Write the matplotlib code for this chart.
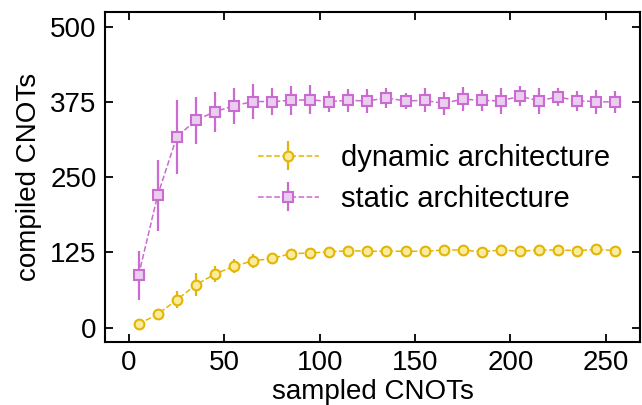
import matplotlib
matplotlib.use("Agg")
import matplotlib.pyplot as plt

plt.rcParams['font.family'] = ['Liberation Sans', 'DejaVu Sans']
plt.rcParams['font.size'] = 20

# sampled CNOT counts (x axis)
sampled = [5, 15, 25, 35, 45, 55, 65, 75, 85, 95, 105, 115, 125, 135, 145,
           155, 165, 175, 185, 195, 205, 215, 225, 235, 245, 255]

# dynamic architecture: mean and spread
dyn_mean = [6, 22, 46, 71, 89, 102, 111, 115, 123, 124, 126, 128, 127, 127,
            127, 127, 129, 129, 126, 129, 127, 129, 129, 128, 130, 128]
dyn_err = [4, 5, 14, 19, 14, 12, 12, 9, 5, 6, 7, 5, 5, 5, 4,
           5, 5, 5, 5, 5, 5, 6, 5, 5, 6, 5]

# static architecture: mean and spread
sta_mean = [87, 220, 317, 345, 359, 369, 376, 376, 378, 379, 376, 378, 377, 382,
            377, 378, 373, 380, 378, 377, 385, 377, 384, 377, 376, 375]
sta_err = [41, 59, 61, 39, 33, 30, 29, 23, 24, 24, 17, 19, 20, 16, 14,
           20, 19, 20, 18, 21, 17, 22, 15, 17, 20, 18]

gold = '#e3b505'
gold_fill = '#fbeb9c'
orchid = '#c96bd0'
orchid_fill = '#ebcdef'

fig = plt.figure(figsize=(6.42, 4.05), dpi=100)
ax = fig.add_axes([0.1636, 0.1556, 0.8333, 0.8148])

ax.errorbar(sampled, dyn_mean, yerr=dyn_err, fmt='o', ls='--', lw=1.1,
            color=gold, ecolor=gold, elinewidth=1.6, capsize=0,
            markersize=7, markerfacecolor=gold_fill, markeredgecolor=gold,
            markeredgewidth=1.5, label='dynamic architecture')
ax.errorbar(sampled, sta_mean, yerr=sta_err, fmt='s', ls='--', lw=1.1,
            color=orchid, ecolor=orchid, elinewidth=1.6, capsize=0,
            markersize=7, markerfacecolor=orchid_fill, markeredgecolor=orchid,
            markeredgewidth=1.5, label='static architecture')

ax.set_xlim(-12.6, 268)
ax.set_ylim(-24, 525)
ax.set_xticks([0, 50, 100, 150, 200, 250])
ax.set_yticks([0, 125, 250, 375, 500])
ax.tick_params(direction='in', length=6, width=1.3, top=True, right=True,
               labelsize=20, pad=6)
for s in ax.spines.values():
    s.set_linewidth(1.5)

ax.set_xlabel('sampled CNOTs', fontsize=20, labelpad=2)
ax.set_ylabel('compiled CNOTs', fontsize=20, labelpad=6)

ax.legend(loc='upper left', bbox_to_anchor=(0.285, 0.60), frameon=False,
          borderpad=0, borderaxespad=0, handlelength=2.1, handletextpad=0.75,
          labelspacing=0.45, fontsize=21)

fig.savefig('out.png', dpi=100)
